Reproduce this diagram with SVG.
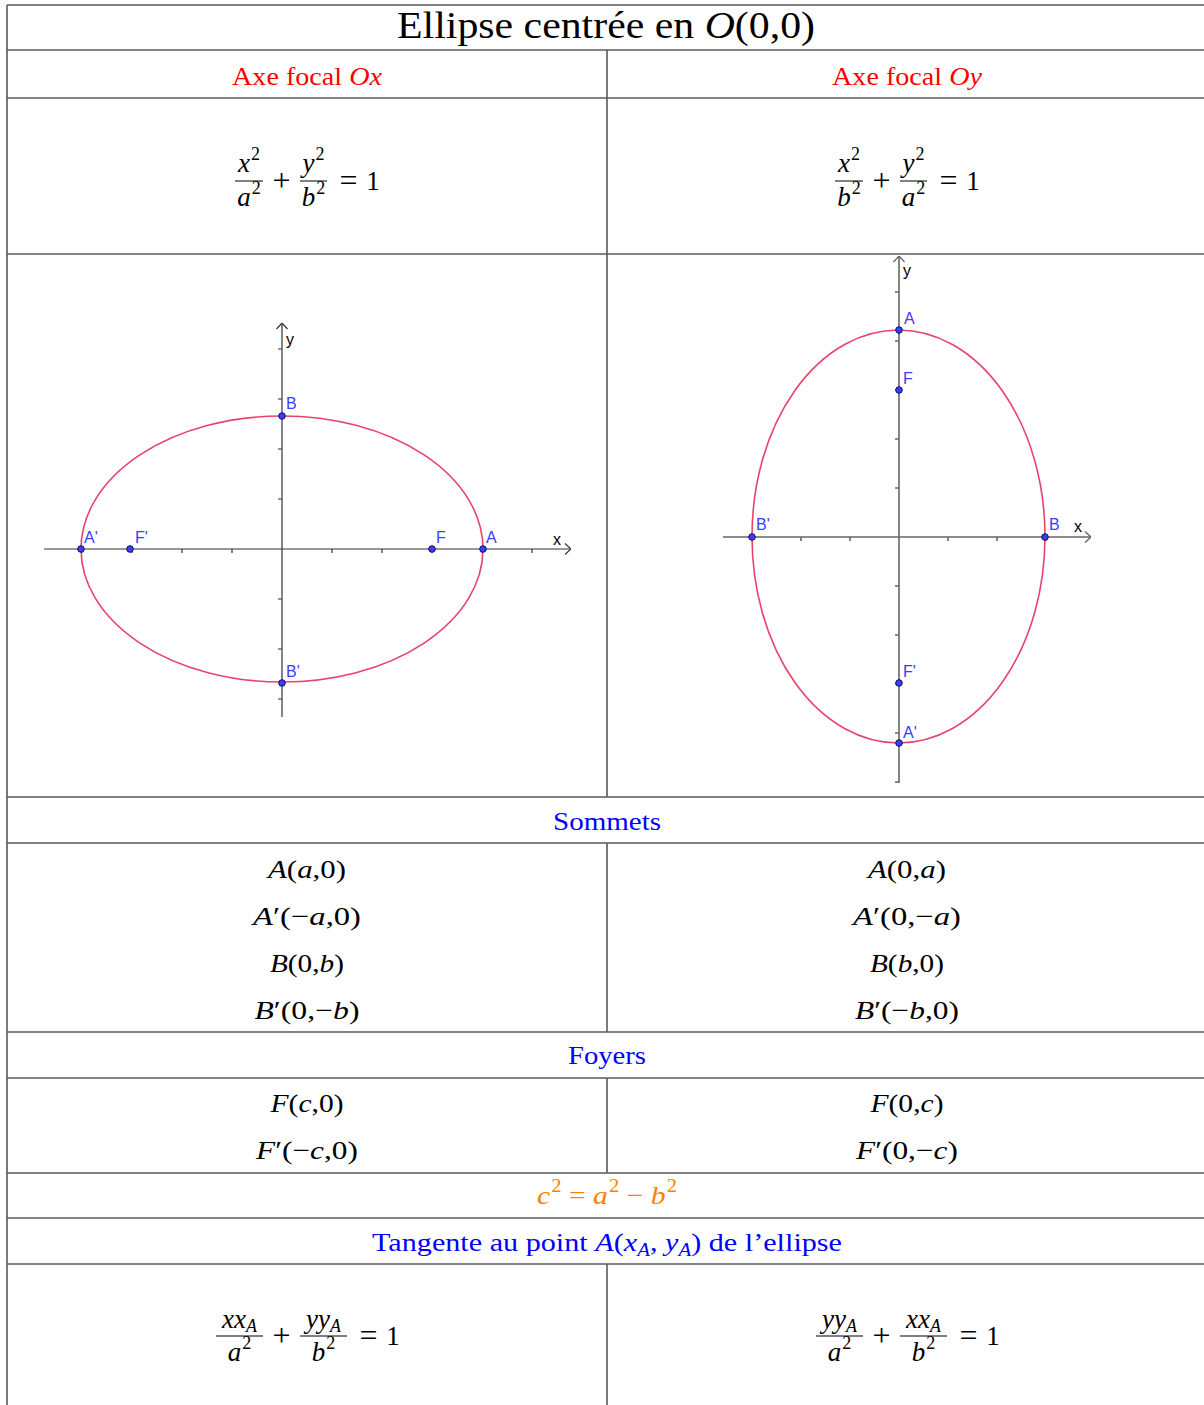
<svg xmlns="http://www.w3.org/2000/svg" width="1204" height="1405" viewBox="0 0 1204 1405">
<style>
.grid{stroke:#5a5a5a;stroke-width:1.6;fill:none}
.m{font-family:"Liberation Serif","Times New Roman",serif;font-size:26px;fill:#000}
.t{font-family:"Liberation Serif","Times New Roman",serif;font-size:37px;fill:#000}
.f{font-family:"Liberation Serif","Times New Roman",serif;font-size:27px;fill:#000;text-anchor:middle}
.op{font-family:"Liberation Serif","Times New Roman",serif;font-size:32px;fill:#000;text-anchor:middle}
.c{text-anchor:middle}
.i{font-style:italic}
.red{fill:#ff0000}
.blue{fill:#0000ff}
.orange{fill:#ff8000}
.bar{stroke:#000;stroke-width:1}
.ell{fill:none;stroke:#e8436b;stroke-width:1.6}
.axL{stroke:#333;stroke-width:1.2;fill:none}
.axR{stroke:#666;stroke-width:1.6;fill:none}
.pt{fill:#3c3cff;stroke:#101060;stroke-width:1}
.lbl{font-family:"Liberation Sans",Arial,sans-serif;font-size:16px;fill:#3c3cff}
.axl{font-family:"Liberation Sans",Arial,sans-serif;font-size:16px;fill:#000}
</style>
<defs>
<marker id="arrL" viewBox="0 0 12 12" refX="12" refY="6" markerWidth="12" markerHeight="12" orient="auto" markerUnits="userSpaceOnUse"><path d="M6,0.5 L12,6 L6,11.5" fill="none" stroke="#333" stroke-width="1.2"/></marker>
<marker id="arrR" viewBox="0 0 12 12" refX="12" refY="6" markerWidth="12" markerHeight="12" orient="auto" markerUnits="userSpaceOnUse"><path d="M6,0.5 L12,6 L6,11.5" fill="none" stroke="#666" stroke-width="1.3"/></marker>
</defs>
<rect x="0" y="0" width="1204" height="1405" fill="#fff"/>

<g id="table-grid" class="grid">
<line x1="7" y1="5" x2="1204" y2="5"/>
<line x1="7" y1="5" x2="7" y2="1405"/>
<line x1="7" y1="50" x2="1204" y2="50"/>
<line x1="7" y1="98" x2="1204" y2="98"/>
<line x1="7" y1="254" x2="1204" y2="254"/>
<line x1="7" y1="797" x2="1204" y2="797"/>
<line x1="7" y1="843" x2="1204" y2="843"/>
<line x1="7" y1="1032" x2="1204" y2="1032"/>
<line x1="7" y1="1078" x2="1204" y2="1078"/>
<line x1="7" y1="1173" x2="1204" y2="1173"/>
<line x1="7" y1="1218" x2="1204" y2="1218"/>
<line x1="7" y1="1264" x2="1204" y2="1264"/>
<line x1="607" y1="50" x2="607" y2="797"/>
<line x1="607" y1="843" x2="607" y2="1032"/>
<line x1="607" y1="1078" x2="607" y2="1173"/>
<line x1="607" y1="1264" x2="607" y2="1405"/>
</g>

<g id="title">
<text class="t c" x="606" y="38" textLength="418" lengthAdjust="spacingAndGlyphs">Ellipse centrée en <tspan class="i">O</tspan>(0,0)</text>
</g>

<g id="headers">
<text class="m c red" x="307" y="85" textLength="150" lengthAdjust="spacingAndGlyphs">Axe focal <tspan class="i">Ox</tspan></text>
<text class="m c red" x="907" y="85" textLength="150" lengthAdjust="spacingAndGlyphs">Axe focal <tspan class="i">Oy</tspan></text>
</g>

<g id="equation-left">
<text class="f" x="249" y="172"><tspan class="i">x</tspan><tspan font-size="18" dx="1" dy="-12">2</tspan></text>
<line class="bar" x1="235" y1="181" x2="263" y2="181"/>
<text class="f" x="249" y="206"><tspan class="i">a</tspan><tspan font-size="18" dx="1" dy="-12">2</tspan></text>
<text class="op" x="281.5" y="191">+</text>
<text class="f" x="313.5" y="172"><tspan class="i">y</tspan><tspan font-size="18" dx="1" dy="-12">2</tspan></text>
<line class="bar" x1="300" y1="181" x2="327" y2="181"/>
<text class="f" x="313.5" y="206"><tspan class="i">b</tspan><tspan font-size="18" dx="1" dy="-12">2</tspan></text>
<text class="op" x="348.5" y="191">=</text>
<text class="f" x="373" y="190">1</text>
</g>

<g id="equation-right">
<text class="f" x="849" y="172"><tspan class="i">x</tspan><tspan font-size="18" dx="1" dy="-12">2</tspan></text>
<line class="bar" x1="835" y1="181" x2="863" y2="181"/>
<text class="f" x="849" y="206"><tspan class="i">b</tspan><tspan font-size="18" dx="1" dy="-12">2</tspan></text>
<text class="op" x="881.5" y="191">+</text>
<text class="f" x="913.5" y="172"><tspan class="i">y</tspan><tspan font-size="18" dx="1" dy="-12">2</tspan></text>
<line class="bar" x1="900" y1="181" x2="927" y2="181"/>
<text class="f" x="913.5" y="206"><tspan class="i">a</tspan><tspan font-size="18" dx="1" dy="-12">2</tspan></text>
<text class="op" x="948.5" y="191">=</text>
<text class="f" x="973" y="190">1</text>
</g>

<g id="graph-left">
<g class="axL">
<line x1="44" y1="549" x2="571" y2="549" marker-end="url(#arrL)"/>
<line x1="282" y1="717" x2="282" y2="323" marker-end="url(#arrL)"/>
<path d="M182,549v4 M232,549v4 M332,549v4 M382,549v4 M532,549v4 M82,549v4 M132,549v4 M432,549v4 M482,549v4 M278,349h4 M278,399h4 M278,449h4 M278,499h4 M278,599h4 M278,649h4 M278,699h4"/>
</g>
<ellipse class="ell" cx="282" cy="549" rx="201" ry="133"/>
<circle class="pt" cx="81" cy="549" r="3.3"/>
<circle class="pt" cx="130" cy="549" r="3.3"/>
<circle class="pt" cx="432" cy="549" r="3.3"/>
<circle class="pt" cx="483" cy="549" r="3.3"/>
<circle class="pt" cx="282" cy="416" r="3.3"/>
<circle class="pt" cx="282" cy="683" r="3.3"/>
<text class="axl" x="286" y="345">y</text>
<text class="axl" x="553" y="545">x</text>
<text class="lbl" x="286" y="409">B</text>
<text class="lbl" x="286" y="677">B'</text>
<text class="lbl" x="84" y="543">A'</text>
<text class="lbl" x="135" y="543">F'</text>
<text class="lbl" x="436" y="543">F</text>
<text class="lbl" x="486" y="543">A</text>
</g>

<g id="graph-right">
<g class="axR">
<line x1="723" y1="537" x2="1091" y2="537" marker-end="url(#arrR)"/>
<line x1="899" y1="783" x2="899" y2="256" marker-end="url(#arrR)"/>
<path d="M801,537v4 M850,537v4 M948,537v4 M997,537v4 M752,537v4 M1046,537v4 M895,292h4 M895,341h4 M895,390h4 M895,439h4 M895,488h4 M895,586h4 M895,635h4 M895,684h4 M895,733h4 M895,782h4"/>
</g>
<ellipse class="ell" cx="898.5" cy="536.5" rx="146.5" ry="206.5"/>
<circle class="pt" cx="899" cy="330" r="3.3"/>
<circle class="pt" cx="899" cy="390" r="3.3"/>
<circle class="pt" cx="899" cy="683" r="3.3"/>
<circle class="pt" cx="899" cy="743" r="3.3"/>
<circle class="pt" cx="752" cy="537" r="3.3"/>
<circle class="pt" cx="1045" cy="537" r="3.3"/>
<text class="axl" x="903" y="276">y</text>
<text class="axl" x="1074" y="532">x</text>
<text class="lbl" x="904" y="324">A</text>
<text class="lbl" x="903" y="384">F</text>
<text class="lbl" x="756" y="530">B'</text>
<text class="lbl" x="1049" y="530">B</text>
<text class="lbl" x="903" y="677">F'</text>
<text class="lbl" x="903" y="738">A'</text>
</g>

<g id="sommets">
<text class="m c blue" x="607" y="830" textLength="108" lengthAdjust="spacingAndGlyphs">Sommets</text>
<text class="m c" x="307" y="878" textLength="78" lengthAdjust="spacingAndGlyphs"><tspan class="i">A</tspan>(<tspan class="i">a</tspan>,0)</text>
<text class="m c" x="307" y="925" textLength="108" lengthAdjust="spacingAndGlyphs"><tspan class="i">A</tspan>′(−<tspan class="i">a</tspan>,0)</text>
<text class="m c" x="307" y="972" textLength="74" lengthAdjust="spacingAndGlyphs"><tspan class="i">B</tspan>(0,<tspan class="i">b</tspan>)</text>
<text class="m c" x="307" y="1019" textLength="105" lengthAdjust="spacingAndGlyphs"><tspan class="i">B</tspan>′(0,−<tspan class="i">b</tspan>)</text>
<text class="m c" x="907" y="878" textLength="78" lengthAdjust="spacingAndGlyphs"><tspan class="i">A</tspan>(0,<tspan class="i">a</tspan>)</text>
<text class="m c" x="907" y="925" textLength="108" lengthAdjust="spacingAndGlyphs"><tspan class="i">A</tspan>′(0,−<tspan class="i">a</tspan>)</text>
<text class="m c" x="907" y="972" textLength="74" lengthAdjust="spacingAndGlyphs"><tspan class="i">B</tspan>(<tspan class="i">b</tspan>,0)</text>
<text class="m c" x="907" y="1019" textLength="104" lengthAdjust="spacingAndGlyphs"><tspan class="i">B</tspan>′(−<tspan class="i">b</tspan>,0)</text>
</g>

<g id="foyers">
<text class="m c blue" x="607" y="1064" textLength="78" lengthAdjust="spacingAndGlyphs">Foyers</text>
<text class="m c" x="307" y="1112" textLength="73" lengthAdjust="spacingAndGlyphs"><tspan class="i">F</tspan>(<tspan class="i">c</tspan>,0)</text>
<text class="m c" x="307" y="1159" textLength="102" lengthAdjust="spacingAndGlyphs"><tspan class="i">F</tspan>′(−<tspan class="i">c</tspan>,0)</text>
<text class="m c" x="907" y="1112" textLength="73" lengthAdjust="spacingAndGlyphs"><tspan class="i">F</tspan>(0,<tspan class="i">c</tspan>)</text>
<text class="m c" x="907" y="1159" textLength="102" lengthAdjust="spacingAndGlyphs"><tspan class="i">F</tspan>′(0,−<tspan class="i">c</tspan>)</text>
</g>

<g id="relation">
<text class="m c orange" x="607" y="1204" textLength="140" lengthAdjust="spacingAndGlyphs"><tspan class="i">c</tspan><tspan font-size="18" dx="1" dy="-12">2</tspan><tspan dy="12"> = </tspan><tspan class="i">a</tspan><tspan font-size="18" dx="1" dy="-12">2</tspan><tspan dy="12"> − </tspan><tspan class="i">b</tspan><tspan font-size="18" dx="1" dy="-12">2</tspan></text>
</g>

<g id="tangente">
<text class="m c blue" x="607" y="1251" textLength="470" lengthAdjust="spacingAndGlyphs">Tangente au point <tspan class="i">A</tspan>(<tspan class="i">x</tspan><tspan class="i" font-size="18" dy="5">A</tspan><tspan dy="-5">, </tspan><tspan class="i">y</tspan><tspan class="i" font-size="18" dy="5">A</tspan><tspan dy="-5">) de l’ellipse</tspan></text>
</g>

<g id="tangent-left">
<text class="f" x="239.5" y="1328"><tspan class="i">xx</tspan><tspan class="i" font-size="18" dy="4">A</tspan></text>
<line class="bar" x1="216" y1="1336" x2="263" y2="1336"/>
<text class="f" x="239.5" y="1361"><tspan class="i">a</tspan><tspan font-size="18" dx="1" dy="-12">2</tspan></text>
<text class="op" x="281.5" y="1346">+</text>
<text class="f" x="323.5" y="1328"><tspan class="i">yy</tspan><tspan class="i" font-size="18" dy="4">A</tspan></text>
<line class="bar" x1="300" y1="1336" x2="347" y2="1336"/>
<text class="f" x="323.5" y="1361"><tspan class="i">b</tspan><tspan font-size="18" dx="1" dy="-12">2</tspan></text>
<text class="op" x="368.5" y="1346">=</text>
<text class="f" x="393" y="1345">1</text>
</g>

<g id="tangent-right">
<text class="f" x="839.5" y="1328"><tspan class="i">yy</tspan><tspan class="i" font-size="18" dy="4">A</tspan></text>
<line class="bar" x1="816" y1="1336" x2="863" y2="1336"/>
<text class="f" x="839.5" y="1361"><tspan class="i">a</tspan><tspan font-size="18" dx="1" dy="-12">2</tspan></text>
<text class="op" x="881.5" y="1346">+</text>
<text class="f" x="923.5" y="1328"><tspan class="i">xx</tspan><tspan class="i" font-size="18" dy="4">A</tspan></text>
<line class="bar" x1="900" y1="1336" x2="947" y2="1336"/>
<text class="f" x="923.5" y="1361"><tspan class="i">b</tspan><tspan font-size="18" dx="1" dy="-12">2</tspan></text>
<text class="op" x="968.5" y="1346">=</text>
<text class="f" x="993" y="1345">1</text>
</g>
</svg>
